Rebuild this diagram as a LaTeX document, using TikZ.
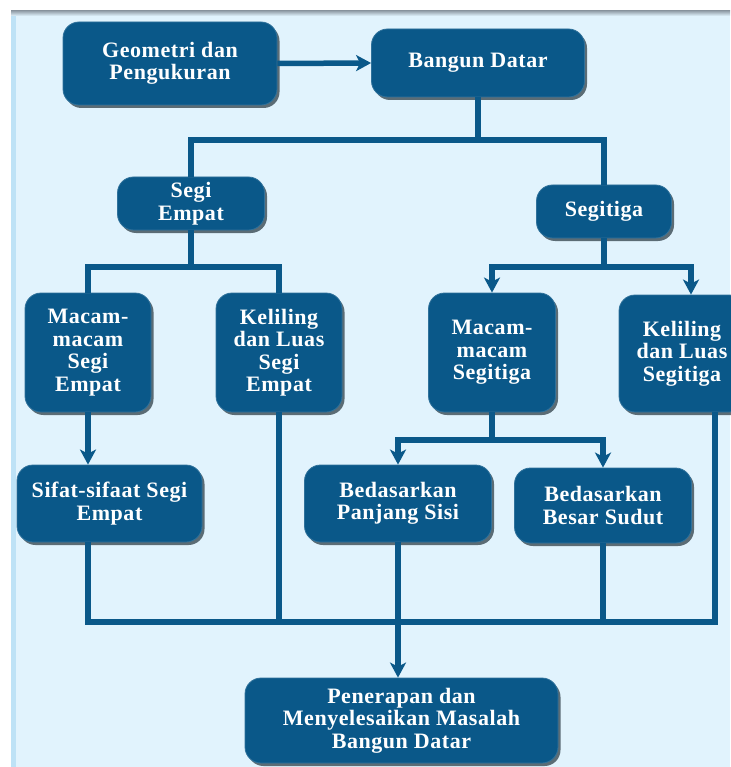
\documentclass[tikz,border=0pt]{standalone}
\usepackage{fontspec}
\setmainfont{Liberation Serif}
\newfontfamily\boxfont{Liberation Serif}[LetterSpace=2.5]
\usetikzlibrary{arrows.meta,shadows}
\definecolor{boxblue}{RGB}{10,88,137}
\definecolor{panel}{RGB}{225,243,253}
\definecolor{stripe}{RGB}{190,226,246}
\definecolor{topbar}{RGB}{150,162,172}
\begin{document}
\begin{tikzpicture}[x=1pt,y=-1pt,
  box/.style={rounded corners=16pt, fill=boxblue, draw=boxblue!85!white, line width=0.8pt,
    text=white, font=\boxfont\bfseries\fontsize{22}{22.5}\selectfont, align=center, inner sep=0pt,
    drop shadow={shadow xshift=2.5pt,shadow yshift=-3pt,fill=black!80!boxblue,opacity=0.6}},
  conn/.style={draw=boxblue, line width=5.5pt, line join=miter},
  arr/.style={conn, -{Stealth[width=16pt,length=15pt,inset=4pt]}}]
\useasboundingbox (0,0) rectangle (730,767);
\fill[white] (0,0) rectangle (730,767);
\fill[panel] (11,11) rectangle (730,767);
\fill[stripe] (11,11) rectangle (16,767);
\shade[top color=topbar, bottom color=panel] (11,11) rectangle (730,16);

\coordinate (y1) at (0,140);
\coordinate (y2) at (0,267);
\coordinate (y3) at (0,440);
\coordinate (y4) at (0,622);
\coordinate (kx) at (715,0);
\coordinate (ax) at (691,0);

\node[box, minimum width=214pt, minimum height=83pt] (geo) at (170,63.5) {Geometri dan\\Pengukuran};
\node[box, minimum width=213pt, minimum height=68pt] (bd) at (478,63) {Bangun Datar};
\node[box, minimum width=147pt, minimum height=53pt] (se) at (191,203.5) {Segi\\Empat};
\node[box, minimum width=135pt, minimum height=53pt] (sg) at (604,211.5) {Segitiga};
\node[box, minimum width=126pt, minimum height=119pt] (mse) at (88,352.5) {Macam-\\macam\\Segi\\Empat};
\node[box, minimum width=126pt, minimum height=119pt] (kse) at (279,352.5) {Keliling\\dan Luas\\Segi\\Empat};
\node[box, minimum width=127pt, minimum height=119pt] (msg) at (492,352.5) {Macam-\\macam\\Segitiga};
\node[box, minimum width=126pt, minimum height=117pt] (ksg) at (682,353.5) {Keliling\\dan Luas\\Segitiga};
\node[box, minimum width=185pt, minimum height=77pt] (sif) at (109.5,503.5) {Sifat-sifaat Segi\\Empat};
\node[box, minimum width=187pt, minimum height=77pt] (bps) at (398,503.5) {Bedasarkan\\Panjang Sisi};
\node[box, minimum width=177pt, minimum height=75pt] (bbs) at (603,505.5) {Bedasarkan\\Besar Sudut};
\node[box, minimum width=313pt, minimum height=85pt] (pen) at (401.5,720.5) {Penerapan dan\\Menyelesaikan Masalah\\Bangun Datar};

\draw[arr] (geo.east) -- (bd.west);
\draw[conn] (bd.south) |- (se.north |- y1) -- (se.north);
\draw[conn] (bd.south |- y1) -| (sg.north);

\draw[conn] (se.south) |- (mse.north |- y2) -- (mse.north);
\draw[conn] (se.south |- y2) -| (kse.north);

\draw[conn] (sg.south) -- (sg.south |- y2);
\draw[arr] (sg.south |- y2) -| (msg.north);
\draw[arr] (sg.south |- y2) -| (ax |- ksg.north);

\draw[arr] (mse.south) -- (mse.south |- sif.north);

\draw[conn] (msg.south) -- (msg.south |- y3);
\draw[arr] (msg.south |- y3) -| (bps.north);
\draw[arr] (msg.south |- y3) -| (bbs.north);

\draw[conn] (mse.south |- sif.south) |- (kx |- y4) -- (kx |- ksg.south);
\draw[conn] (kse.south) -- (kse.south |- y4);
\draw[conn] (bbs.south) -- (bbs.south |- y4);
\draw[arr] (bps.south) -- (bps.south |- pen.north);
\end{tikzpicture}
\end{document}
